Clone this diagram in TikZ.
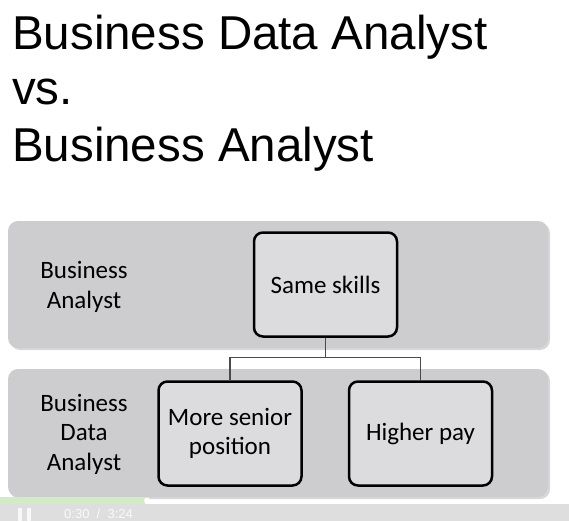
\documentclass[tikz,border=0pt]{standalone}
\usepackage{fontspec}
\setmainfont{Liberation Sans}
\newfontfamily\boxfont{Carlito}
\usepackage{tikz}
\usetikzlibrary{
  positioning,
  calc
}
\definecolor{bandGrey}{HTML}{CDCDD0}
\definecolor{bandShadow}{HTML}{BDBDC0}
\definecolor{itemGrey}{HTML}{DCDCDF}
\definecolor{linkGrey}{HTML}{4A4A4A}
\definecolor{playerGrey}{HTML}{DEDEDE}
\definecolor{progressGreen}{HTML}{D3EAC6}
\tikzset{
  band/.style={fill=bandGrey,rounded corners=10pt},
  band shadow/.style={fill=bandShadow,rounded corners=10pt,opacity=0.6},
  item/.style={draw=black,line width=2.5pt,fill=itemGrey,rounded corners=9pt,
    minimum width=143pt,minimum height=104pt,inner sep=0pt,align=center,
    font=\boxfont\fontsize{25}{29}\selectfont},
  row label/.style={inner sep=0pt,align=center,anchor=base,
    font=\boxfont\fontsize{25}{29.5}\selectfont},
  heading/.style={inner sep=0pt,anchor=base west,font=\fontsize{47.5}{56}\selectfont},
  link/.style={draw=linkGrey,line width=1.3pt},
}

\begin{document}
\begin{tikzpicture}[x=1pt,y=1pt]
\useasboundingbox (0,0) rectangle (569,-521);

% heading
\node[heading] (titleA) at (12,-50) {Business Data Analyst};
\node[heading] (titleB) at (12,-105) {vs.};
\node[heading] (titleC) at (12,-162) {Business Analyst};

% the two bands
\fill[band shadow] (10,-223) rectangle (550,-350);
\fill[band] (8,-221) rectangle (548,-348);
\fill[band shadow] (10,-371) rectangle (550,-499);
\fill[band] (8,-369) rectangle (548,-497);

% base anchor sits on the last line
\node[row label] (labelBA) at (84,-308) {Business\\Analyst};
\node[row label] (labelBDA) at (84,-470) {Business\\Data\\Analyst};

% boxes
\node[item] (same) at (325.5,-284.5) {Same skills};
\node[item] (senior) at (230,-433.5) {More senior\\position};
\node[item] (pay) at (420.5,-433.5) {Higher pay};

\coordinate (fork) at ([yshift=-20pt]same.south);
\draw[link] (same.south) -- (fork);
\draw[link] (fork) -| (senior.north);
\draw[link] (fork) -| (pay.north);

% player bar
\fill[progressGreen] (0,-497) rectangle (145,-504);
\fill[white] (147,-500.5) circle (3pt);
\fill[playerGrey] (0,-504) rectangle (569,-521);
\fill[white,opacity=0.8] (18,-508) rectangle (22,-521);
\fill[white,opacity=0.8] (27,-508) rectangle (31,-521);
\node[inner sep=0pt,anchor=base west,text=white,opacity=0.85,font=\fontsize{13}{15}\selectfont]
  (clock) at (64,-518) {0:30 \ / \ 3:24};
\end{tikzpicture}
\end{document}
